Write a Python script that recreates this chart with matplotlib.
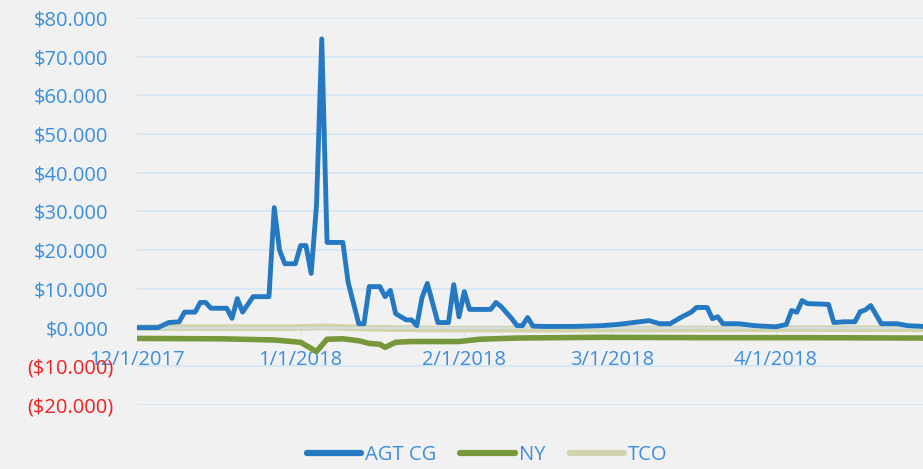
import matplotlib.pyplot as plt
import matplotlib.transforms as mtransforms
import matplotlib.dates as mdates
import pandas as pd

plt.rcParams['font.family'] = ['Open Sans', 'DejaVu Sans']

# series values in thousands of dollars, days counted from 12/1/2017
start = pd.Timestamp('2017-12-01')

agt_days = [0, 4, 6, 8, 9, 11, 12, 13, 14, 17, 18, 19, 20, 22, 25, 26, 27, 28, 30,
            31, 32, 33, 34, 35, 36, 39, 40, 42, 43, 44, 46, 47, 48, 49, 51, 52, 53,
            54, 55, 57, 59, 60, 61, 62, 63, 67, 68, 69, 71, 72, 73, 74, 75, 77, 83,
            88, 91, 97, 99, 101, 103, 105, 106, 108, 109, 110, 111, 114, 117, 121,
            123, 124, 125, 126, 127, 131, 132, 134, 136, 137, 138, 139, 141, 144,
            146, 149]
agt_vals = [0, 0, 1.3, 1.5, 4, 4, 6.5, 6.5, 5, 5, 2.4, 7.5, 4, 8, 8, 31, 20, 16.5,
            16.5, 21.2, 21.2, 14, 31.5, 74.6, 22, 22, 11.7, 1, 1, 10.6, 10.6, 8, 9.6,
            3.6, 2, 2, 0.5, 7.8, 11.4, 1.3, 1.3, 11.1, 2.8, 9.3, 4.7, 4.7, 6.5, 5.4,
            2.3, 0.5, 0.5, 2.6, 0.4, 0.3, 0.3, 0.5, 0.8, 1.8, 1, 1, 2.6, 4, 5.2, 5.2,
            2.3, 2.8, 1, 1, 0.5, 0.2, 0.8, 4.4, 4, 7, 6.2, 6, 1.3, 1.5, 1.5, 4.1, 4.6,
            5.7, 1, 1, 0.5, 0.3]

ny_days = [0, 16, 26, 31, 34, 36, 39, 42, 44, 46, 47, 49, 52, 61, 65, 72, 88, 107,
           126, 149]
ny_vals = [-2.8, -2.9, -3.2, -3.8, -6.2, -3.0, -2.9, -3.4, -4.1, -4.3, -5.1, -3.8,
           -3.6, -3.6, -3.0, -2.7, -2.5, -2.6, -2.6, -2.7]

tco_days = [0, 30, 35, 45, 60, 90, 120, 149]
tco_vals = [0, 0, 0.2, -0.2, -0.4, -0.4, -0.3, -0.3]

y_ticks = [-20, -10, 0, 10, 20, 30, 40, 50, 60, 70, 80]
x_ticks = ['2017-12-01', '2018-01-01', '2018-02-01', '2018-03-01', '2018-04-01']

agt_dates = start + pd.to_timedelta(agt_days, unit='D')
ny_dates = start + pd.to_timedelta(ny_days, unit='D')
tco_dates = start + pd.to_timedelta(tco_days, unit='D')

label_blue = '#3a8ee0'

fig = plt.figure(figsize=(9.23, 4.69), dpi=100, facecolor='#f1f1f1')
ax = fig.add_axes([137 / 923, 1 - 405 / 469, 1 - 137 / 923, (405 - 18) / 469])
ax.set_facecolor('none')

ax.plot(agt_dates, agt_vals, color='#2479c2', lw=3.5, label='AGT CG', zorder=3,
        solid_joinstyle='round')
ax.plot(ny_dates, ny_vals, color='#77983b', lw=4, label='NY', zorder=2)
ax.plot(tco_dates, tco_vals, color='#d2d2ab', lw=4.8, label='TCO', zorder=2)

ax.set_ylim(-20, 80)
ax.set_xlim(start, start + pd.Timedelta(days=148.9))
ax.set_yticks(y_ticks)
ax.grid(axis='y', color='#cfe4f7', lw=1.1)
ax.set_axisbelow(True)

for s in ['top', 'right', 'left']:
    ax.spines[s].set_visible(False)
ax.spines['bottom'].set_position(('data', 0))
ax.spines['bottom'].set_color('#cfe4f7')
ax.spines['bottom'].set_linewidth(1.1)

ax.set_xticks(pd.to_datetime(x_ticks))
ax.xaxis.set_major_formatter(mdates.DateFormatter('%-m/%-d/%Y'))
ax.tick_params(axis='x', length=5, color='#cfe4f7', labelsize=14.5,
               labelcolor=label_blue, pad=11)
ax.tick_params(axis='y', length=0, labelsize=14.5, pad=17)

ylabels = []
for v in y_ticks:
    if v < 0:
        ylabels.append('(${:d}.000)'.format(-v))
    else:
        ylabels.append('${:d}.000'.format(v))
ax.set_yticklabels(ylabels)
# positive labels leave room for the closing bracket, like the negatives
shift = mtransforms.ScaledTranslation(-5 / 100, 0, fig.dpi_scale_trans)
for v, lab in zip(y_ticks, ax.get_yticklabels()):
    if v < 0:
        lab.set_color('#f02020')
    else:
        lab.set_color(label_blue)
        lab.set_transform(lab.get_transform() + shift)

leg = fig.legend(loc='center', bbox_to_anchor=(487 / 923, 1 - 455 / 469), ncol=3,
                 frameon=False, fontsize=14.5, handlelength=2.7, handletextpad=0.2,
                 columnspacing=1.2)
for t in leg.get_texts():
    t.set_color(label_blue)
for h in leg.get_lines():
    h.set_linewidth(4.5)
    h.set_solid_capstyle('round')

fig.savefig('out.png', dpi=100, facecolor=fig.get_facecolor())
